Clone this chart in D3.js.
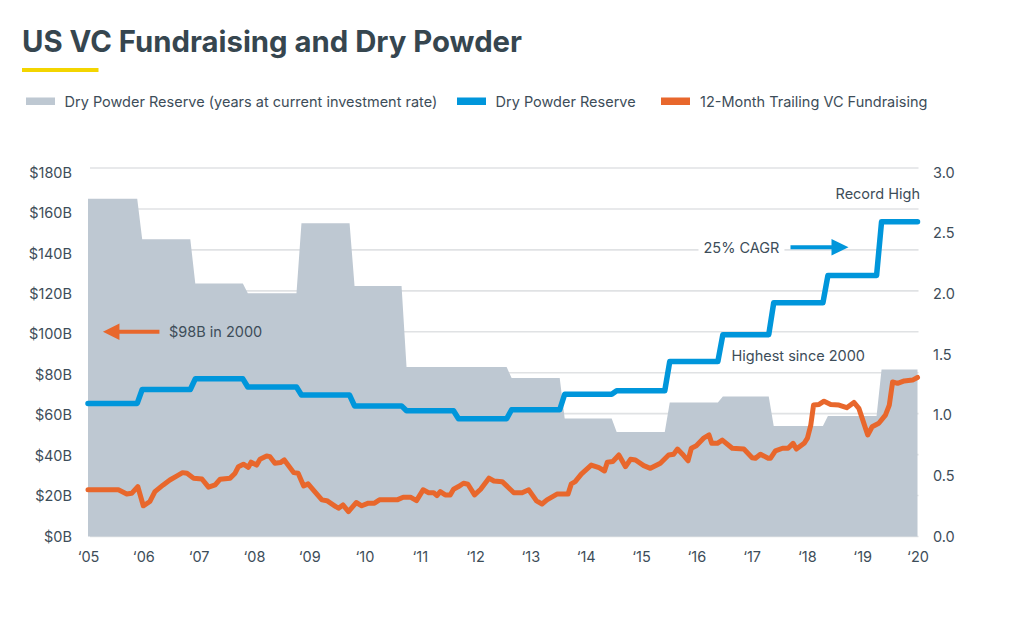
<!DOCTYPE html>
<html><head><meta charset="utf-8">
<script src="https://cdn.jsdelivr.net/npm/d3@7"></script>
<style>
html,body{margin:0;padding:0;background:#fff;}
svg{display:block;font-family:Inter,"Noto Sans",sans-serif;}
</style></head><body>
<svg id="chart" width="1009" height="638"></svg>
<script>
// ---------- data ----------
const yearTicks = [2005,2006,2007,2008,2009,2010,2011,2012,2013,2014,2015,2016,2017,2018,2019,2020];
const yearTickLabels = ["‘05","‘06","‘07","‘08","‘09","‘10","‘11","‘12","‘13","‘14","‘15","‘16","‘17","‘18","‘19","‘20"];
const leftTicks = [0,20,40,60,80,100,120,140,160,180];
const leftTickLabels = ["$0B","$20B","$40B","$60B","$80B","$100B","$120B","$140B","$160B","$180B"];
const rightTicks = [0,0.5,1,1.5,2,2.5,3];
const rightTickLabels = ["0.0","0.5","1.0","1.5","2.0","2.5","3.0"];

// step periods (start, decimal year)
const stepStarts = [2005.00,2005.89,2006.85,2007.80,2008.77,2009.73,2010.67,2011.61,2012.57,2013.53,2014.47,2015.43,2016.39,2017.31,2018.29,2019.26];
// Dry Powder Reserve ($B)
const dryPowder = [65.0,71.8,77.0,73.0,69.1,63.8,61.4,57.5,61.9,69.5,71.2,85.5,98.6,114.2,127.5,153.8];
// Dry Powder Reserve (years at current investment rate)
const reserveYears = [2.75,2.42,2.06,1.98,2.55,2.04,1.38,1.38,1.29,0.96,0.85,1.09,1.14,0.90,0.98,1.36];

// 12-Month Trailing VC Fundraising ($B)
const fundDates = [2005.00,2005.55,2005.70,2005.79,2005.90,2006.00,2006.12,2006.21,2006.36,2006.48,2006.61,2006.71,2006.79,2006.91,2007.06,2007.18,2007.30,2007.39,2007.57,2007.66,2007.72,2007.81,2007.90,2007.95,2008.05,2008.11,2008.23,2008.29,2008.38,2008.48,2008.55,2008.72,2008.80,2008.90,2008.98,2009.10,2009.23,2009.32,2009.46,2009.53,2009.61,2009.71,2009.85,2009.95,2010.07,2010.18,2010.27,2010.59,2010.70,2010.83,2010.94,2011.06,2011.16,2011.25,2011.31,2011.37,2011.46,2011.55,2011.61,2011.70,2011.79,2011.87,2011.99,2012.10,2012.25,2012.34,2012.49,2012.70,2012.85,2012.97,2013.11,2013.21,2013.30,2013.48,2013.68,2013.74,2013.81,2013.92,2014.10,2014.24,2014.34,2014.39,2014.49,2014.60,2014.72,2014.81,2014.90,2015.05,2015.17,2015.35,2015.50,2015.59,2015.66,2015.75,2015.85,2015.91,2016.00,2016.14,2016.23,2016.28,2016.38,2016.47,2016.65,2016.86,2017.01,2017.07,2017.16,2017.30,2017.34,2017.43,2017.56,2017.66,2017.75,2017.81,2017.95,2018.01,2018.07,2018.12,2018.22,2018.31,2018.43,2018.58,2018.72,2018.85,2018.94,2019.10,2019.18,2019.30,2019.42,2019.49,2019.55,2019.64,2019.76,2019.91,2020.00];
const fundValues = [22.8,22.8,20.8,21.1,24.4,15.0,17.1,21.9,25.2,27.6,29.6,31.2,30.9,28.5,28.1,24.1,25.2,28.0,28.5,30.9,34.1,35.3,33.8,36.3,34.9,37.7,39.3,39.0,35.8,36.1,37.4,31.2,30.9,24.7,25.7,21.9,17.9,17.5,15.0,13.8,15.4,12.2,16.6,15.0,16.3,16.3,17.9,17.9,19.2,19.2,17.5,22.8,21.4,21.4,20.0,21.9,20.3,20.3,23.1,24.4,26.0,25.5,20.3,23.1,28.5,27.1,26.8,21.4,21.4,22.8,17.4,15.9,17.9,20.7,20.7,25.7,26.8,30.5,34.9,33.6,32.0,36.3,36.6,39.8,34.1,37.7,37.4,34.6,33.3,35.8,39.8,40.2,42.7,40.2,37.0,43.1,44.3,48.2,49.6,45.5,45.5,47.1,43.1,42.7,38.5,38.2,40.2,38.2,38.2,41.8,43.1,43.1,45.5,42.7,45.5,48.0,54.4,64.2,64.5,66.1,64.5,64.2,62.9,65.5,62.6,49.6,53.6,55.3,59.3,64.2,75.5,74.8,76.0,76.4,77.7];

const legendLabels = ["Dry Powder Reserve (years at current investment rate)","Dry Powder Reserve","12-Month Trailing VC Fundraising"];
const titleText = "US VC Fundraising and Dry Powder";

// ---------- style ----------
const C = {text:"#3d4d59", title:"#36464f", grid:"#e0e2e4", area:"#bec8d2", blue:"#0096db", orange:"#e8672c", yellow:"#f3d500"};
const FS = 14.5;
const ramp = 0.09; // transition width between step periods (years)

const svg = d3.select("#chart");
const x = d3.scaleLinear().domain([2005,2020]).range([88,917.5]);
const yL = d3.scaleLinear().domain([0,180]).range([536.5,168]);
const yR = d3.scaleLinear().domain([0,3]).range([536.5,168]);
const yLab = d3.scaleLinear().domain([0,180]).range([536.5,172.5]);
const yLabR = d3.scaleLinear().domain([0,3]).range([536.5,172.5]);

// title
svg.append("text").attr("x",22).attr("y",52).attr("font-size",29.3).attr("font-weight",700)
  .attr("fill",C.title).text(titleText);
svg.append("rect").attr("x",22).attr("y",68).attr("width",76.5).attr("height",4).attr("fill",C.yellow);

// legend
const legendItems = [
  {sx:26, tx:64.5, color:C.area},
  {sx:457, tx:495.5, color:C.blue},
  {sx:661, tx:700, color:C.orange}
];
legendItems.forEach((d,i)=>{
  svg.append("rect").attr("x",d.sx).attr("y",97.5).attr("width",29).attr("height",7.5).attr("fill",d.color);
  svg.append("text").attr("x",d.tx).attr("y",101.5).attr("dy","0.35em").attr("font-size",FS)
    .attr("fill",C.text).text(legendLabels[i]);
});

// gridlines
svg.append("g").selectAll("line").data(leftTicks).join("line")
  .attr("x1",90).attr("x2",918.5).attr("y1",d=>yL(d)).attr("y2",d=>yL(d))
  .attr("stroke",C.grid).attr("stroke-width",1.6);

// build step series
function stepPoints(vals){
  const pts = [];
  vals.forEach((v,i)=>{
    const s = i===0 ? stepStarts[0] : stepStarts[i]+ramp;
    const e = i===vals.length-1 ? 2020 : stepStarts[i+1];
    pts.push([s,v]); pts.push([e,v]);
  });
  return pts;
}

// area (right axis)
const areaPts = stepPoints(reserveYears);
svg.append("path").datum(areaPts)
  .attr("d", d3.area().x(d=>x(d[0])).y0(yR(0)).y1(d=>yR(d[1])))
  .attr("fill",C.area);

// blue line
const bluePts = stepPoints(dryPowder);
svg.append("path").datum(bluePts)
  .attr("d", d3.line().x(d=>x(d[0])).y(d=>yL(d[1])))
  .attr("fill","none").attr("stroke",C.blue).attr("stroke-width",5.5)
  .attr("stroke-linejoin","round").attr("stroke-linecap","round");

// orange line
const fund = fundDates.map((d,i)=>[d,fundValues[i]]);
svg.append("path").datum(fund)
  .attr("d", d3.line().x(d=>x(d[0])).y(d=>yL(d[1])))
  .attr("fill","none").attr("stroke",C.orange).attr("stroke-width",5)
  .attr("stroke-linejoin","round").attr("stroke-linecap","round");

// axes
function styleAxis(g){
  g.select(".domain").remove();
  g.selectAll("line").remove();
  g.selectAll("text").attr("font-size",FS).attr("fill",C.text).attr("font-family","Inter,'Noto Sans',sans-serif");
}
svg.append("g").attr("transform","translate(72,0)")
  .call(d3.axisLeft(yLab).tickValues(leftTicks).tickFormat((d,i)=>leftTickLabels[i]).tickSize(0).tickPadding(0))
  .call(styleAxis);
svg.append("g").attr("transform","translate(933,0)")
  .call(d3.axisRight(yLabR).tickValues(rightTicks).tickFormat((d,i)=>rightTickLabels[i]).tickSize(0).tickPadding(0))
  .call(styleAxis);
const xg = svg.append("g").attr("transform","translate(0,557)")
  .call(d3.axisBottom(x).tickValues(yearTicks).tickFormat((d,i)=>yearTickLabels[i]).tickSize(0).tickPadding(0))
  .call(styleAxis);
xg.selectAll("text").attr("y",0).attr("dy","0.35em");

// annotations
// orange arrow "$98B in 2000"
const ax0 = x(2005.27), ay = yL(100);
svg.append("line").attr("x1",ax0+14).attr("x2",ax0+56.5).attr("y1",ay).attr("y2",ay)
  .attr("stroke",C.orange).attr("stroke-width",4);
svg.append("path").attr("d",`M${ax0},${ay} L${ax0+16.5},${ay-8.3} L${ax0+16.5},${ay+8.3} Z`).attr("fill",C.orange);
svg.append("text").attr("x",ax0+66).attr("y",ay).attr("dy","0.35em").attr("font-size",FS)
  .attr("fill",C.text).text("$98B in 2000");

// 25% CAGR (white background over gridline)
const cy = yL(140.8);
const cg = svg.append("g");
const cbg = cg.append("rect").attr("fill","#fff");
const ct = cg.append("text").attr("x",703.5).attr("y",cy).attr("dy","0.35em").attr("font-size",FS)
  .attr("fill",C.text).text("25% CAGR");
const bb = ct.node().getBBox();
cbg.attr("x",bb.x-5).attr("y",bb.y-1).attr("width",bb.width+10).attr("height",bb.height+2);
svg.append("line").attr("x1",790.5).attr("x2",834).attr("y1",cy-1).attr("y2",cy-1)
  .attr("stroke",C.blue).attr("stroke-width",4);
svg.append("path").attr("d",`M848.5,${cy-1} L831.5,${cy-9.3} L831.5,${cy+7.3} Z`).attr("fill",C.blue);

// Record High / Highest since 2000
svg.append("text").attr("x",920).attr("y",193.5).attr("dy","0.35em").attr("text-anchor","end")
  .attr("font-size",FS).attr("fill",C.text).text("Record High");
svg.append("text").attr("x",731.5).attr("y",356).attr("dy","0.35em")
  .attr("font-size",FS).attr("fill",C.text).text("Highest since 2000");
</script>
</body></html>
